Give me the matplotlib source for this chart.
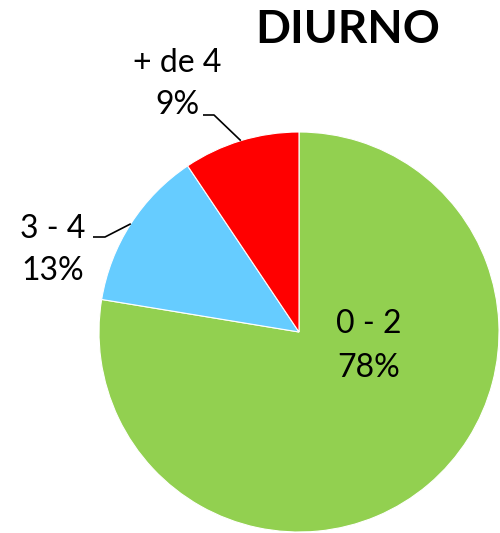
"""Pie chart DIURNO: distribution of categories (0-2, 3-4, + de 4)."""
import numpy as np
import matplotlib
matplotlib.use("Agg")
import matplotlib.pyplot as plt

plt.rcParams["font.family"] = ["Lato", "DejaVu Sans"]

TITLE = "DIURNO"
categories = ["0 - 2", "3 - 4", "+ de 4"]
shares = [77.6, 13.0, 9.4]
colors = ["#92D050", "#66CCFF", "#FF0000"]

W, H = 500, 533
fig = plt.figure(figsize=(W / 100, H / 100), dpi=100)
ax = fig.add_axes([0, 0, 1, 1])

cx, cy, r = 299, H - 332, 200
wedges, _ = ax.pie(shares, colors=colors, startangle=90, counterclock=False,
                   center=(cx, cy), radius=r, frame=True,
                   wedgeprops=dict(edgecolor="white", linewidth=0.8))
ax.set_xlim(0, W)
ax.set_ylim(0, H)
ax.set_aspect("equal")
ax.axis("off")

fs = 23
# inside label for the big slice
ax.text(369, H - 346, f"{categories[0]}\n{round(shares[0])}%", ha="center",
        va="center", fontsize=fs, linespacing=1.55)

# outside labels with leader lines
outside = {1: ((53, H - 250), (93, H - 237), (105, H - 237)),
           2: ((177, H - 84), (203, H - 115), (214, H - 115))}
for i, (txt_xy, p0, p1) in outside.items():
    w = wedges[i]
    mid = np.deg2rad((w.theta1 + w.theta2) / 2)
    edge = (cx + r * np.cos(mid), cy + r * np.sin(mid))
    ax.text(*txt_xy, f"{categories[i]}\n{round(shares[i])}%", ha="center",
            va="center", fontsize=fs, linespacing=1.5)
    ax.plot([p0[0], p1[0], edge[0]], [p0[1], p1[1], edge[1]],
            color="black", lw=1.2, solid_capstyle="butt")

ax.text(348, H - 30, TITLE, ha="center", va="center", fontsize=33,
        fontweight="bold")

fig.savefig("out.png", dpi=100)
